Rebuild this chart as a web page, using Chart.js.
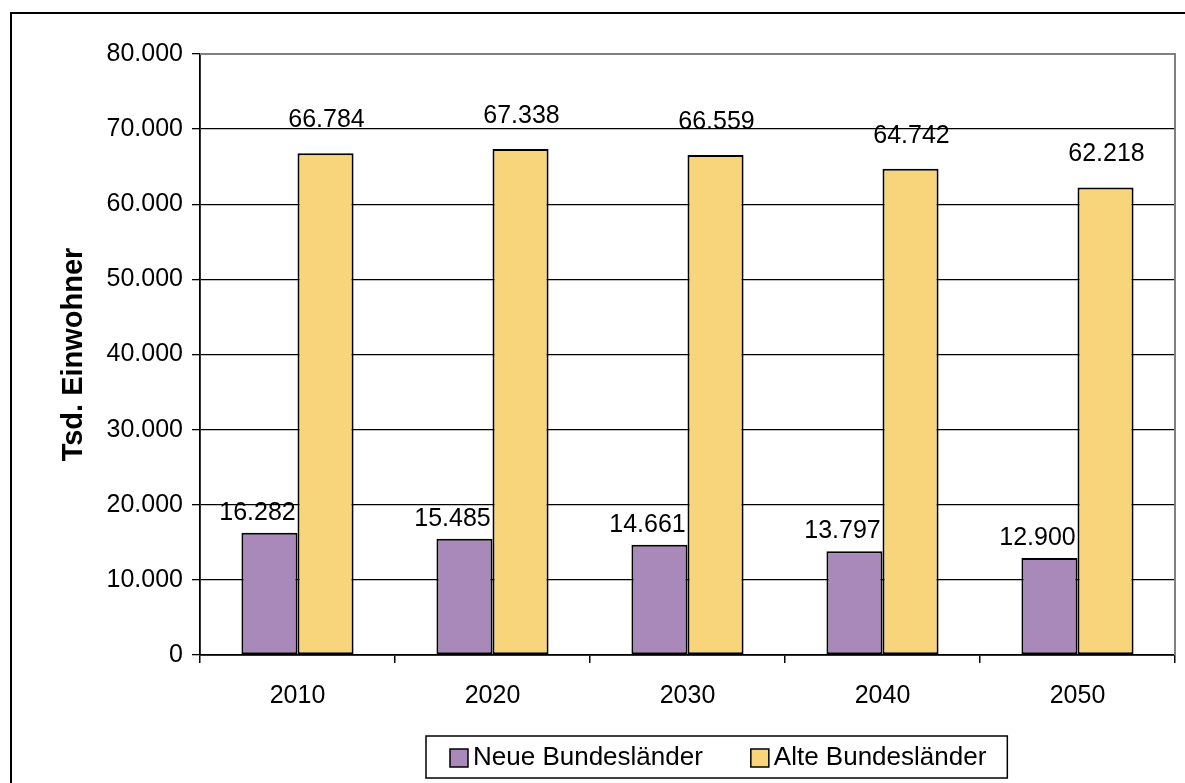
<!DOCTYPE html>
<html><head><meta charset="utf-8">
<script src="https://cdn.jsdelivr.net/npm/chart.js@4.4.1/dist/chart.umd.min.js"></script>
<style>html,body{margin:0;padding:0;background:#fff}#wrap{width:1185px;height:783px;position:relative}</style>
</head><body><div id="wrap"><canvas id="c" width="1185" height="783"></canvas></div>
<script>
const categories = ['2010', '2020', '2030', '2040', '2050'];
const neueValues = [16282, 15485, 14661, 13797, 12900];
const alteValues = [66784, 67338, 66559, 64742, 62218];
const seriesNames = ['Neue Bundesländer', 'Alte Bundesländer'];
const seriesColors = ['#A988BA', '#F8D57B'];
const yMin = 0, yMax = 80000, yStep = 10000;
const yAxisTitle = 'Tsd. Einwohner';

const FONT = '"Liberation Sans", Arial, sans-serif';
function fmt(v) { return String(v).replace(/\B(?=(\d{3})+(?!\d))/g, '.'); }

const framePlugin = {
  id: 'frame',
  beforeDraw(chart) {
    const ctx = chart.ctx;
    ctx.save();
    ctx.fillStyle = '#fff';
    ctx.fillRect(0, 0, chart.width, chart.height);
    ctx.strokeStyle = '#000';
    ctx.lineWidth = 2;
    ctx.beginPath();
    ctx.moveTo(11, chart.height + 5);
    ctx.lineTo(11, 13);
    ctx.lineTo(chart.width + 5, 13);
    ctx.stroke();
    ctx.restore();
  },
  afterDraw(chart) {
    const ctx = chart.ctx, a = chart.chartArea;
    ctx.save();
    ctx.strokeStyle = '#808080';
    ctx.lineWidth = 2;
    ctx.beginPath();
    ctx.moveTo(a.left, a.top);
    ctx.lineTo(a.right, a.top);
    ctx.lineTo(a.right, a.bottom);
    ctx.stroke();
    ctx.restore();
  }
};

const labelPlugin = {
  id: 'barLabels',
  afterDatasetsDraw(chart, args, opts) {
    const ctx = chart.ctx;
    ctx.save();
    ctx.font = '25px ' + FONT;
    ctx.fillStyle = '#000';
    ctx.textAlign = 'center';
    ctx.textBaseline = 'middle';
    chart.data.datasets.forEach((ds, i) => {
      const meta = chart.getDatasetMeta(i);
      const off = opts.offsets[i];
      meta.data.forEach((bar, j) => {
        ctx.fillText(fmt(ds.data[j]), bar.x + off.dx, bar.y - off.dy);
      });
    });
    ctx.restore();
  }
};

const legendPlugin = {
  id: 'boxLegend',
  afterDraw(chart) {
    const ctx = chart.ctx;
    ctx.save();
    ctx.font = '26px ' + FONT;
    const box = 18, gapText = 5, gapItem = 48, padL = 24, padR = 21;
    const widths = chart.data.datasets.map(ds => ctx.measureText(ds.label).width);
    let total = padL + padR;
    widths.forEach((w, i) => { total += box + gapText + w + (i ? gapItem : 0); });
    const left = 426, top = 736, h = 42;
    ctx.strokeStyle = '#000';
    ctx.lineWidth = 1.5;
    ctx.strokeRect(left, top, total, h);
    let x = left + padL;
    const cy = top + h / 2 + 1;
    chart.data.datasets.forEach((ds, i) => {
      ctx.fillStyle = ds.backgroundColor;
      ctx.fillRect(x, cy - box / 2, box, box);
      ctx.lineWidth = 1.5;
      ctx.strokeRect(x, cy - box / 2, box, box);
      ctx.fillStyle = '#000';
      ctx.textBaseline = 'middle';
      ctx.textAlign = 'left';
      ctx.fillText(ds.label, x + box + gapText, cy);
      x += box + gapText + widths[i] + gapItem;
    });
    ctx.restore();
  }
};

new Chart(document.getElementById('c'), {
  type: 'bar',
  data: {
    labels: categories,
    datasets: [
      { label: seriesNames[0], data: neueValues, backgroundColor: seriesColors[0], borderColor: '#000', borderWidth: 2, borderSkipped: false },
      { label: seriesNames[1], data: alteValues, backgroundColor: seriesColors[1], borderColor: '#000', borderWidth: 2, borderSkipped: false }
    ]
  },
  options: {
    responsive: false,
    animation: false,
    devicePixelRatio: 1,
    layout: { padding: { top: 54, right: 10, left: 0, bottom: 0 } },
    datasets: { bar: { categoryPercentage: 0.575, barPercentage: 1.0 } },
    plugins: {
      legend: { display: false },
      tooltip: { enabled: false },
      barLabels: { offsets: [{ dx: -12, dy: 20 }, { dx: 1, dy: 33 }] }
    },
    scales: {
      x: {
        afterFit(s) { s.height = 128; },
        grid: { offset: true, drawOnChartArea: false, drawTicks: true, tickLength: 8, color: '#000', lineWidth: 1.5 },
        border: { color: '#000', width: 1.8 },
        ticks: { color: '#000', font: { family: FONT, size: 25 }, padding: 18, maxRotation: 0 }
      },
      y: {
        min: yMin, max: yMax,
        afterFit(s) { s.width = 200; },
        ticks: { stepSize: yStep, color: '#000', font: { family: FONT, size: 25 }, padding: 9, callback: v => fmt(v) },
        grid: { color: '#000', lineWidth: 1.3, tickLength: 8 },
        border: { color: '#000', width: 1.8 },
        title: { display: true, text: yAxisTitle, color: '#000', font: { family: FONT, size: 29, weight: 'bold' }, padding: { top: 57, bottom: 0 } }
      }
    }
  },
  plugins: [framePlugin, labelPlugin, legendPlugin]
});
</script>
</body></html>
